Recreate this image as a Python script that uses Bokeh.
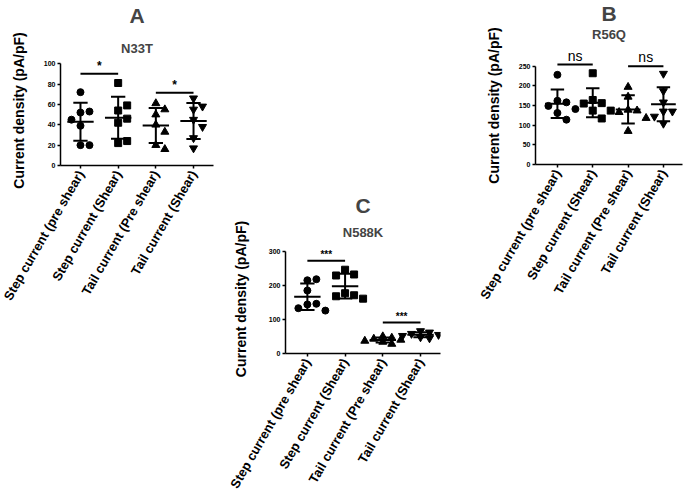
import numpy as np
from bokeh.plotting import figure
from bokeh.models import Title, FixedTicker, Range1d, ColumnDataSource
from bokeh.embed import file_html
from bokeh.resources import INLINE

categories = ["Step current (pre shear)", "Step current (Shear)",
              "Tail current (Pre shear)", "Tail current (Shear)"]
markers = ["circle", "square", "triangle", "inverted_triangle"]
y_label = "Current density (pA/pF)"

# ---- Panel A: N33T ----
a_step_pre = [72, 52, 53, 45, 39, 20, 20]
a_step_shear = [81, 54, 59, 46, 42, 22, 24]
a_tail_pre = [61, 55, 50, 40, 33, 20, 16]
a_tail_shear = [66, 58, 55, 45, 38, 27, 17]
a_yticks = [0, 20, 40, 60, 80, 100]
a_sig_text = ["*", "*"]
a_sig_from = [1, 3]
a_sig_to = [2, 4]
a_sig_level = [90, 71.5]

# ---- Panel B: R56Q ----
b_step_pre = [228, 162, 158, 149, 141, 131, 114]
b_step_shear = [232, 164, 156, 155, 137, 137, 117]
b_tail_pre = [197, 172, 139, 137, 133, 118, 85]
b_tail_shear = [231, 187, 158, 135, 135, 122, 104]
b_yticks = [0, 50, 100, 150, 200, 250]
b_sig_text = ["ns", "ns"]
b_sig_from = [1, 3]
b_sig_to = [2, 4]
b_sig_level = [254, 250]

# ---- Panel C: N588K ----
c_step_pre = [215, 218, 185, 144, 146, 133, 126]
c_step_shear = [246, 232, 229, 177, 171, 168, 161]
c_tail_pre = [50, 46, 43, 40, 37, 34, 28]
c_tail_shear = [66, 62, 58, 55, 52, 48, 45]
c_yticks = [0, 100, 200, 300]
c_sig_text = ["***", "***"]
c_sig_from = [1, 3]
c_sig_to = [2, 4]
c_sig_level = [272, 91]

FONT = "Liberation Sans"


def swarm(vals, px_y, px_x, d=9.0, step=9.0, max_k=2):
    placed, offs = [], []
    cands = [0]
    for k in range(1, max_k + 1):
        cands += [k, -k]
    for v in vals:
        y = v * px_y
        best, bestd = 0, -1
        for c in cands:
            x = c * step
            md = min([np.hypot(x - a, y - b) for a, b in placed], default=1e9)
            if md >= d:
                best = x
                break
            if md > bestd:
                bestd, best = md, x
        placed.append((best, y))
        offs.append(best / px_x)
    return offs


def spacer_title(px):
    # white (invisible on white) title used only as a vertical gap
    return Title(text=".", text_color="white", text_font=FONT,
                 text_font_size=f"{px}px", standoff=0)


def panel(letter, name, groups, yticks, ymax, xr, box, frame,
          sig_text, sig_from, sig_to, sig_level, sig_size, sig_style,
          gap_below_name, gap_above_name, label_standoff):
    # box: (page_left, page_top, width, height); frame: (left, top, right, bottom) in page px
    bx, by, bw, bh = box
    fl, ft, fr, fb = frame
    p = figure(width=bw, height=bh,
               x_range=Range1d(*xr), y_range=Range1d(0, ymax),
               output_backend="svg", toolbar_location=None,
               min_border_left=fl - bx, min_border_top=ft - by,
               min_border_right=bx + bw - fr,
               min_border_bottom=by + bh - fb)
    p.styles = {"position": "absolute", "left": f"{bx}px", "top": f"{by}px"}
    if gap_below_name:
        p.add_layout(spacer_title(gap_below_name), "above")
    p.add_layout(Title(text=name, align="center", text_font=FONT,
                       text_font_size="13px", text_font_style="bold",
                       standoff=0), "above")
    if gap_above_name:
        p.add_layout(spacer_title(gap_above_name), "above")
    p.add_layout(Title(text=letter, align="center", text_font=FONT,
                       text_font_size="21px", text_font_style="bold",
                       standoff=0), "above")
    p.xgrid.visible = False
    p.ygrid.visible = False
    p.outline_line_color = None
    p.background_fill_color = None
    p.border_fill_color = None

    for ax in (p.xaxis[0], p.yaxis[0]):
        ax.axis_line_width = 1.5
        ax.axis_line_color = "black"
        ax.major_tick_line_width = 1.5
        ax.major_tick_line_color = "black"
        ax.major_tick_out = 3
        ax.major_tick_in = 0
        ax.minor_tick_out = 0
        ax.minor_tick_in = 0
        ax.major_label_text_font = FONT
        ax.major_label_text_font_style = "bold"
        ax.major_label_text_color = "black"

    xa = p.xaxis[0]
    xa.ticker = FixedTicker(ticks=[1, 2, 3, 4])
    xa.major_label_overrides = {i + 1: c for i, c in enumerate(categories)}
    xa.major_label_orientation = np.pi / 3
    xa.major_label_text_font_size = "13px"
    xa.major_label_standoff = 3

    ya = p.yaxis[0]
    ya.ticker = FixedTicker(ticks=yticks)
    ya.bounds = (0, yticks[-1])
    ya.major_label_text_font_size = "7px"
    ya.major_label_standoff = 2
    ya.axis_label = y_label
    ya.axis_label_text_font = FONT
    ya.axis_label_text_font_size = "14px"
    ya.axis_label_text_font_style = "bold"
    ya.axis_label_text_color = "black"
    ya.axis_label_standoff = label_standoff

    fw = fr - fl
    fh = fb - ft
    px_y = fh / ymax
    px_x = fw / (xr[1] - xr[0])
    for i, vals in enumerate(groups):
        cx = i + 1
        m = float(np.mean(vals))
        s = float(np.std(vals, ddof=1))
        p.segment(x0=[cx], x1=[cx], y0=[m - s], y1=[m + s],
                  line_color="black", line_width=2)
        p.segment(x0=[cx - 0.19, cx - 0.19], x1=[cx + 0.19, cx + 0.19],
                  y0=[m - s, m + s], y1=[m - s, m + s],
                  line_color="black", line_width=2)
        p.segment(x0=[cx - 0.35], x1=[cx + 0.35], y0=[m], y1=[m],
                  line_color="black", line_width=2)
        offs = swarm(vals, px_y, px_x)
        xs = [cx + o for o in offs]
        p.scatter(xs, vals, marker=markers[i], size=8 if i >= 2 else 7,
                  color="black")

    src = ColumnDataSource(dict(x0=sig_from, x1=sig_to, y=sig_level,
                                xm=[(a + b) / 2 for a, b in zip(sig_from, sig_to)],
                                t=sig_text))
    p.segment(x0="x0", x1="x1", y0="y", y1="y", source=src,
              line_color="black", line_width=2)
    p.text(x="xm", y="y", text="t", source=src, text_align="center",
           text_baseline="bottom", y_offset=-1, text_font_size=sig_size,
           text_font_style=sig_style, text_color="black")
    return p


# Frames in page pixels. A: value 0 at y 165, 1.02 px/unit;
# B: 0 at y 164, 0.393 px/unit; C: 0 at y 353, 0.34 px/unit.
pA = panel("A", "N33T", [a_step_pre, a_step_shear, a_tail_pre, a_tail_shear],
           a_yticks, 108, (0.47, 4.53), (0, -20, 228, 340), (60, 55, 213, 165),
           a_sig_text, a_sig_from, a_sig_to, a_sig_level, "12px", "bold",
           0, 14, 14)
pC = panel("C", "N588K", [c_step_pre, c_step_shear, c_tail_pre, c_tail_shear],
           c_yticks, 320, (0.42, 4.53), (222, 170, 238, 327), (285, 244, 440, 353),
           c_sig_text, c_sig_from, c_sig_to, c_sig_level, "10px", "bold",
           3, 5, 17)
pB = panel("B", "R56Q", [b_step_pre, b_step_shear, b_tail_pre, b_tail_shear],
           b_yticks, 300, (0.38, 4.54), (455, -20, 228, 340), (535, 46, 682, 164),
           b_sig_text, b_sig_from, b_sig_to, b_sig_level, "14px", "normal",
           4, 0, 14)

open("out.html", "w").write(file_html([pA, pC, pB], INLINE))
